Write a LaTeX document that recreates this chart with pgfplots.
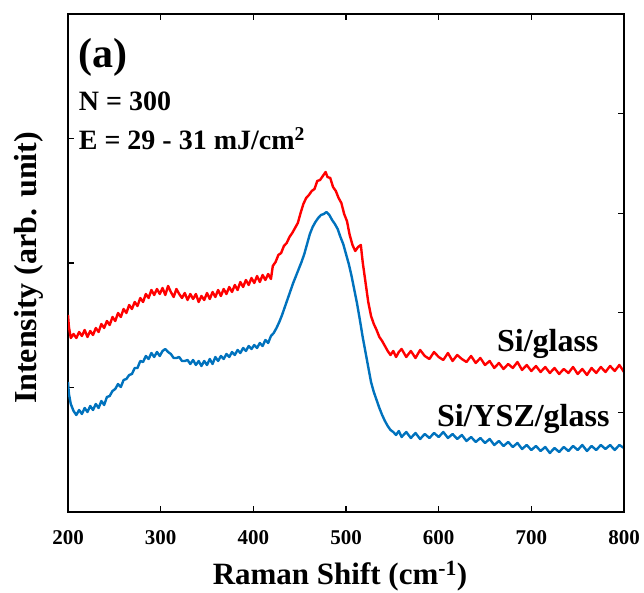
\documentclass[border=0pt]{standalone}
\usepackage{fontspec}
\setmainfont{Liberation Serif}
\usepackage{pgfplots}
\pgfplotsset{compat=1.18}
\definecolor{myred}{RGB}{255,0,0}
\definecolor{myblue}{RGB}{0,114,189}
\pgfplotstableread{
x h
200 197
201 185
203 174
206 178
209 174
212 180
215 176
218 182
221 175
224 181
227 177
230 184
233 180
236 188
239 184
242 191
245 187
248 195
251 191
254 199
257 195
260 203
263 199
266 207
269 203
272 210
275 206
278 214
281 210
284 218
287 214
290 222
293 217
296 223
299 218
302 224
305 217
308 226
311 220
314 215
317 223
320 218
323 214
326 219
329 212
332 218
335 213
338 218
341 210
344 216
347 212
350 219
353 213
356 220
359 215
362 222
365 216
368 223
371 218
374 225
377 220
380 227
383 222
386 230
389 225
392 232
395 227
398 234
401 229
404 236
407 230
410 237
413 232
416 238
419 233
421 246
424 250
427 257
430 259
433 266
436 269
439 275
442 279
445 284
448 289
451 299
454 308
457 314
460 317
463 321
466 323
469 331
472 332
475 336
478 340
480 335
483 334
486 325
489 321
492 314
495 309
498 298
501 291
504 277
507 267
510 261
513 265
516 267
518 250
521 230
524 210
527 196
530 188
533 182
536 175
539 171
542 166
545 161
548 157
551 161
554 155
557 160
560 163
565 155
570 161
575 154
580 162
585 156
590 153
595 160
600 155
605 152
610 159
615 151
620 157
625 153
630 150
635 156
640 149
645 154
650 147
655 151
660 144
665 149
670 143
675 148
680 144
685 150
690 142
695 147
700 141
705 146
710 140
715 145
720 139
725 144
730 138
735 143
740 139
745 145
750 138
755 143
760 137
765 144
770 139
775 145
780 140
785 146
790 141
795 147
800 140
}\redtable
\pgfplotstableread{
x h
200 130
201 118
203 108
206 101
209 97
212 102
215 98
218 104
221 100
224 106
227 102
230 108
233 104
236 111
239 107
242 115
245 116
248 121
251 123
254 128
257 125
260 132
263 133
266 137
269 138
272 144
275 144
278 151
281 150
284 156
287 153
290 159
293 155
296 160
299 156
302 161
305 163
308 160
311 158
314 154
317 154
320 155
323 151
326 151
329 152
332 148
335 152
338 147
341 151
344 146
347 151
350 147
353 153
356 148
359 155
362 151
365 156
368 153
371 158
374 155
377 160
380 157
383 162
386 159
389 164
392 161
395 166
398 163
401 167
404 164
407 169
410 166
413 172
416 169
419 176
422 179
425 184
428 190
431 197
434 205
437 213
440 221
443 229
446 236
449 243
452 250
455 258
458 268
461 278
464 285
467 290
470 294
473 297
476 298
479 300
482 297
485 292
488 288
491 283
494 275
497 268
500 258
503 248
506 236
509 222
512 208
515 192
518 175
521 160
524 145
527 130
530 120
533 112
536 104
539 97
542 91
545 86
548 82
551 80
554 77
557 81
560 75
565 80
570 74
575 79
580 73
585 78
590 74
595 79
600 75
605 80
610 74
615 78
620 73
625 77
630 71
635 75
640 70
645 74
650 69
655 73
660 67
665 71
670 66
675 70
680 65
685 69
690 63
695 67
700 62
705 66
710 61
715 65
720 59
725 64
730 60
735 65
740 61
745 66
750 62
755 67
760 61
765 66
770 62
775 67
780 63
785 67
790 62
795 67
800 64
}\bluetable
\begin{document}
\begin{tikzpicture}
\path[use as bounding box] (0,0) rectangle (644pt,593pt);
\begin{axis}[
  at={(68pt,81pt)}, anchor=south west,
  scale only axis, width=556pt, height=498pt,
  xmin=200, xmax=800, ymin=0, ymax=498,
  xtick={200,300,400,500,600,700,800},
  ytick={124.5,249,373.5}, yticklabels={}, ytick pos=left,
  tick align=inside, major tick length=6pt,
  axis line style={line width=1.5pt},
  every tick/.style={line width=1.3pt, black},
  /pgf/number format/assume math mode=true,
  /pgf/number format/1000 sep={},
  xticklabel style={font=\fontsize{21}{21}\selectfont\bfseries, yshift=-15pt},
  xlabel={Raman Shift (cm\textsuperscript{-1})},
  xlabel style={font=\fontsize{31}{31}\selectfont\bfseries, at={(axis description cs:0.5,0)}, anchor=base, yshift=-73pt, xshift=-6pt},
  ylabel={Intensity (arb. unit)},
  ylabel style={font=\fontsize{32}{32}\selectfont\bfseries, at={(axis description cs:-0.0558,0.49)}, anchor=base},
  clip=true,
]
\addplot[myred, line width=2.4pt, line join=round] table[x=x, y=h] {\redtable};
\addplot[myblue, line width=2.4pt, line join=round] table[x=x, y=h] {\bluetable};
\node[anchor=base west, inner sep=0pt, font=\fontsize{42}{42}\selectfont\bfseries] at (axis cs:210.8,444) {(a)};
\node[anchor=base west, inner sep=0pt, font=\fontsize{28}{28}\selectfont\bfseries] at (axis cs:211.5,401) {N = 300};
\node[anchor=base west, inner sep=0pt, font=\fontsize{28}{28}\selectfont\bfseries] at (axis cs:211.5,362) {E = 29 - 31 mJ/cm\textsuperscript{2}};
\node[anchor=base west, inner sep=0pt, font=\fontsize{32}{32}\selectfont\bfseries] at (axis cs:662.8,160) {Si/glass};
\node[anchor=base west, inner sep=0pt, font=\fontsize{32}{32}\selectfont\bfseries] at (axis cs:598,85) {Si/YSZ/glass};
\end{axis}
\begin{axis}[
  at={(68pt,81pt)}, anchor=south west,
  scale only axis, width=556pt, height=498pt,
  xmin=200, xmax=800, ymin=0, ymax=498,
  axis x line=none, axis y line*=right,
  ytick={99.6,199.2,298.8,398.4}, yticklabels={},
  tick align=inside, major tick length=6pt,
  axis line style={line width=1.5pt, -},
  every tick/.style={line width=1.3pt, black},
]
\end{axis}
\end{tikzpicture}
\end{document}
